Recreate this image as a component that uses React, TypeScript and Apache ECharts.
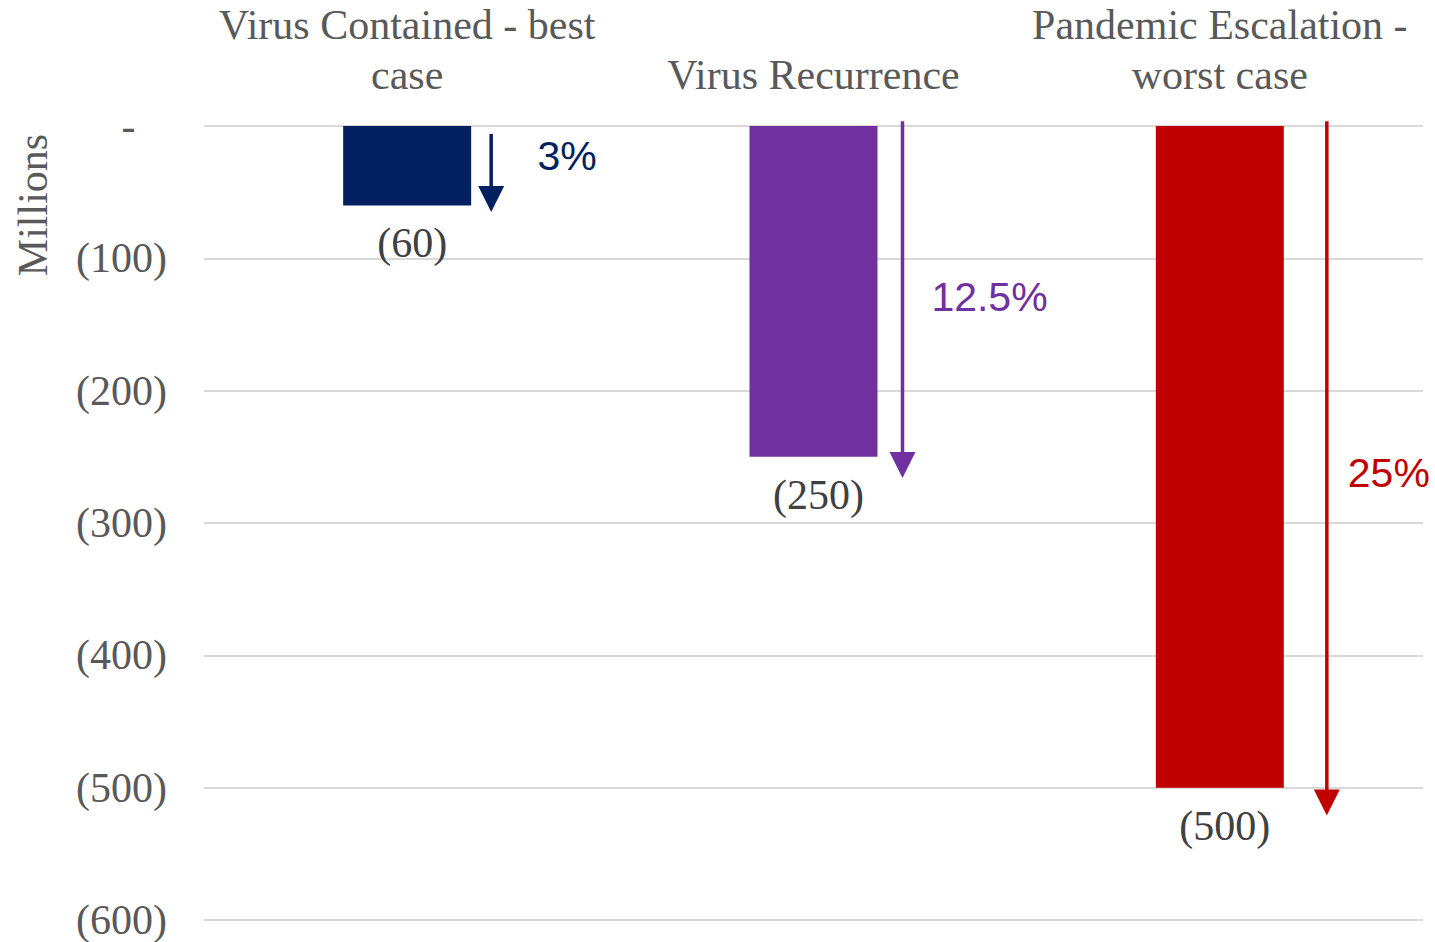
import React, { useEffect, useRef } from "react";
import * as echarts from "echarts";

const categories = ["Virus Contained - best\ncase", "Virus Recurrence", "Pandemic Escalation -\nworst case"];
const impactValues = [-60, -250, -500];
const barColors = ["#002060", "#7030A0", "#C00000"];
const percentLabels = ["3%", "12.5%", "25%"];
const arrowTops = [-6, 3.5, 3.5];
const arrowTips = [-65, -266, -521];
const yTicks = [0, -100, -200, -300, -400, -500, -600];

const arrowOffsetX = [84, 89, 107];
const pctOffsetX = [76, 87, 62];
const pctOffsetY = [-17, -3, 5];

export default function App() {
  const ref = useRef<HTMLDivElement>(null);
  useEffect(() => {
    if (!ref.current) return;
    const chart = echarts.init(ref.current, undefined, { renderer: "svg" });
    const serif = "'Liberation Serif', 'Times New Roman', serif";
    const sans = "'Liberation Sans', Arial, sans-serif";
    chart.setOption({
      animation: false,
      backgroundColor: "#ffffff",
      grid: { left: 204, right: 12, top: 124.5, bottom: 22, containLabel: false },
      graphic: [
        {
          type: "text",
          x: 33,
          y: 205,
          rotation: Math.PI / 2,
          style: {
            text: "Millions",
            font: `42px ${serif}`,
            fill: "#595959",
            align: "center",
            verticalAlign: "middle",
          },
        },
      ],
      xAxis: {
        type: "category",
        position: "top",
        data: categories,
        axisLine: { show: false },
        axisTick: { show: false },
        axisLabel: {
          color: "#595959",
          fontFamily: serif,
          fontSize: 42,
          lineHeight: 50,
          margin: 26,
          interval: 0,
        },
      },
      yAxis: {
        type: "value",
        min: -600,
        max: 0,
        interval: 100,
        axisLine: { show: false },
        axisTick: { show: false },
        splitLine: { lineStyle: { color: "#d9d9d9", width: 2 } },
        axisLabel: {
          color: "#595959",
          fontFamily: serif,
          fontSize: 42,
          margin: 37,
          formatter: (v: number) => (v === 0 ? "-   " : `(${Math.abs(v)})`),
          customValues: yTicks,
        },
      },
      series: [
        {
          type: "bar",
          barWidth: 128,
          data: impactValues.map((v, i) => ({ value: v, itemStyle: { color: barColors[i] } })),
          label: {
            show: true,
            position: "bottom",
            distance: 17,
            offset: [5, 0],
            color: "#404040",
            fontFamily: serif,
            fontSize: 42,
            formatter: (p: any) => `(${Math.abs(p.value)})`,
          },
        },
        {
          type: "custom",
          clip: false,
          silent: true,
          data: arrowTops.map((t, i) => [i, t, arrowTips[i]]),
          renderItem: (params: any, api: any) => {
            const i = params.dataIndex;
            const cx = api.coord([api.value(0), 0])[0];
            const x = cx + arrowOffsetX[i];
            const yTop = api.coord([api.value(0), api.value(1)])[1];
            const yTip = api.coord([api.value(0), api.value(2)])[1];
            const head = 26;
            const half = 13;
            const color = barColors[i];
            return {
              type: "group",
              children: [
                {
                  type: "line",
                  shape: { x1: x, y1: yTop, x2: x, y2: yTip - head + 2 },
                  style: { stroke: color, lineWidth: 3.5 },
                },
                {
                  type: "polygon",
                  shape: { points: [[x - half, yTip - head], [x + half, yTip - head], [x, yTip]] },
                  style: { fill: color },
                },
                {
                  type: "text",
                  x: x + pctOffsetX[i],
                  y: (yTop + yTip) / 2 + pctOffsetY[i],
                  style: {
                    text: percentLabels[i],
                    font: `41px ${sans}`,
                    fill: color,
                    align: "center",
                    verticalAlign: "middle",
                  },
                },
              ],
            };
          },
        },
      ],
    });
    return () => chart.dispose();
  }, []);
  return (
    <div
      ref={ref}
      style={{ position: "fixed", left: 0, top: 0, width: 1435, height: 942, background: "#fff" }}
    />
  );
}
